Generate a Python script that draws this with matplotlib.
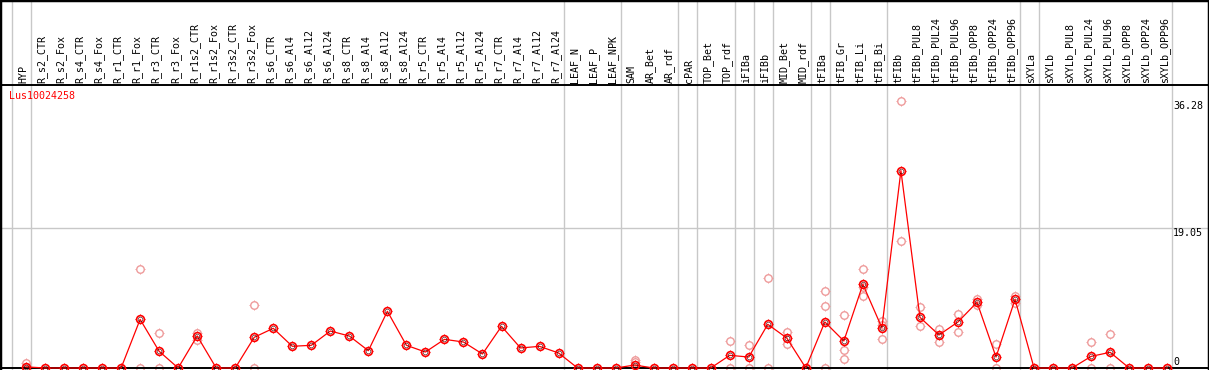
import numpy as np
import matplotlib
matplotlib.use("Agg")
import matplotlib.pyplot as plt
from matplotlib.path import Path

# ---------------- data ----------------------------------------------
gene = "Lus10024258"

samples = ["HYP",
           "R_s2_CTR", "R_s2_Fox", "R_s4_CTR", "R_s4_Fox",
           "R_r1_CTR", "R_r1_Fox", "R_r3_CTR", "R_r3_Fox",
           "R_r1s2_CTR", "R_r1s2_Fox", "R_r3s2_CTR", "R_r3s2_Fox",
           "R_s6_CTR", "R_s6_Al4", "R_s6_Al12", "R_s6_Al24",
           "R_s8_CTR", "R_s8_Al4", "R_s8_Al12", "R_s8_Al24",
           "R_r5_CTR", "R_r5_Al4", "R_r5_Al12", "R_r5_Al24",
           "R_r7_CTR", "R_r7_Al4", "R_r7_Al12", "R_r7_Al24",
           "LEAF_N", "LEAF_P", "LEAF_NPK",
           "SAM", "AR_Bet", "AR_rdf", "cPAR", "TOP_Bet", "TOP_rdf",
           "iFIBa", "iFIBb", "MID_Bet", "MID_rdf",
           "tFIBa", "tFIB_Gr", "tFIB_Li", "tFIB_Bi",
           "tFIBb", "tFIBb_PUL8", "tFIBb_PUL24", "tFIBb_PUL96",
           "tFIBb_OPP8", "tFIBb_OPP24", "tFIBb_OPP96",
           "sXYLa", "sXYLb", "sXYLb_PUL8", "sXYLb_PUL24", "sXYLb_PUL96",
           "sXYLb_OPP8", "sXYLb_OPP24", "sXYLb_OPP96"]

# mean expression per sample
means = [0.15,
         0, 0, 0, 0,
         0, 6.6, 2.27, 0,
         4.35, 0, 0, 4.17,
         5.39, 2.95, 3.08, 5.02,
         4.34, 2.35, 7.7, 3.08,
         2.17, 3.89, 3.53, 1.9,
         5.66, 2.72, 2.94, 2.04,
         0, 0, 0,
         0.4, 0, 0, 0, 0, 1.72,
         1.49, 5.93, 4.07, 0,
         6.25, 3.67, 11.36, 5.45,
         26.8, 6.88, 4.48, 6.25,
         8.92, 1.49, 9.32,
         0, 0, 0, 1.58, 2.13,
         0, 0, 0]

# replicate values (only where they show apart from the mean)
reps = [[0.64, 0],
        [], [], [], [],
        [], [13.5, 0], [4.7, 0], [],
        [4.8, 3.8], [], [], [8.5, 0],
        [], [], [], [],
        [], [], [], [],
        [], [], [], [],
        [], [], [], [],
        [], [], [],
        [1.1, 0.75], [], [], [], [], [3.62, 0],
        [3.08, 0], [12.2, 0], [4.89, 3.26], [],
        [10.45, 8.37, 0], [7.15, 2.4, 1.18], [13.4, 11.0, 9.8], [6.4, 5.8, 4.0],
        [36.28, 17.2], [8.24, 5.66], [5.25, 3.58], [7.29, 4.93],
        [9.41, 8.55], [3.21, 0], [9.82, 8.78],
        [], [], [], [3.48, 0], [4.62, 0],
        [], [], []]

# index of the last sample in each group (-1 = left edge)
group_ends = [-1, 0, 28, 31, 34, 35, 37, 38, 39, 41, 42, 45, 52, 53, 60]

y_ticks = [36.28, 19.05, 0]

# ---------------- figure --------------------------------------------
W, H = 1209, 370
fig = plt.figure(figsize=(W / 100, H / 100), dpi=100)
# plot area in pixels: x 0..1209, y 85..368
ax = fig.add_axes([0, 2 / H, 1, 283 / H])
step = 19.02
x0 = 26
ax.set_xlim(-x0 / step, (W - x0) / step)
ax.set_ylim(0, 283 / 7.365)
ax.set_xticks([])
ax.set_yticks([])
for s in ax.spines.values():
    s.set_color("black")
    s.set_linewidth(1.4)

mono = "DejaVu Sans Mono"
fs = 7.2
grey = "#c8c8c8"

# group separators, full height of the image
for e in group_ends:
    ax.axvline(e + 5 / step, ymin=-2 / 283, ymax=368 / 283, color=grey,
               lw=1, clip_on=False, zorder=1)
ax.axhline(19.05, color=grey, lw=1, zorder=1)

# four short ticks around the circles
r0 = 0.72
ticks = Path([(0, r0), (0, 1), (0, -r0), (0, -1),
              (r0, 0), (1, 0), (-r0, 0), (-1, 0)],
             [Path.MOVETO, Path.LINETO] * 4)

xi = np.arange(len(samples))

# replicates
rx, ry = [], []
for i, r in enumerate(reps):
    for v in r:
        rx.append(i)
        ry.append(v)
rep_col = "#ee9a9a"
ax.plot(rx, ry, ls="none", marker="o", ms=5.4, mfc="none", mec=rep_col,
        mew=1.0, clip_on=False, zorder=2)
ax.plot(rx, ry, ls="none", marker=ticks, ms=7.4, mec=rep_col,
        mew=0.7, clip_on=False, zorder=2)

# mean line
ax.plot(xi, means, color="red", lw=0.9, zorder=3, clip_on=False)
ax.plot(xi, means, ls="none", marker="o", ms=5.6, mfc="none", mec="red",
        mew=1.2, clip_on=False, zorder=4)
ax.plot(xi, means, ls="none", marker=ticks, ms=7.6, mec="red",
        mew=0.7, clip_on=False, zorder=4)
ax.plot(xi, means, ls="none", marker="o", ms=3.4, mfc="none", mec="#400000",
        mew=0.4, clip_on=False, zorder=5)

# sample labels on top
for i, name in enumerate(samples):
    ax.text(i - 0.15, 285.5 / 283, name, rotation=90, ha="center",
            va="bottom", family=mono, fontsize=fs,
            transform=ax.get_xaxis_transform(), clip_on=False)

# right side value labels
for v in y_ticks:
    ax.text(1173 / W, v + (0.15 if v == 0 else -0.05), f"{v:g}" if v == 0 else f"{v:.2f}",
            ha="left", va="bottom" if v == 0 else "top", family=mono,
            fontsize=fs, transform=ax.get_yaxis_transform())

ax.text(9 / W, 1 - 6 / 283, gene, color="red", ha="left", va="top",
        family=mono, fontsize=fs, transform=ax.transAxes)

# outer border of the picture (top, left, right)
fig.add_artist(plt.Line2D([0, 0, 1, 1], [2 / H, 1, 1, 2 / H],
                          transform=fig.transFigure, color="black", lw=2.5))

fig.savefig("out.png", dpi=100)
